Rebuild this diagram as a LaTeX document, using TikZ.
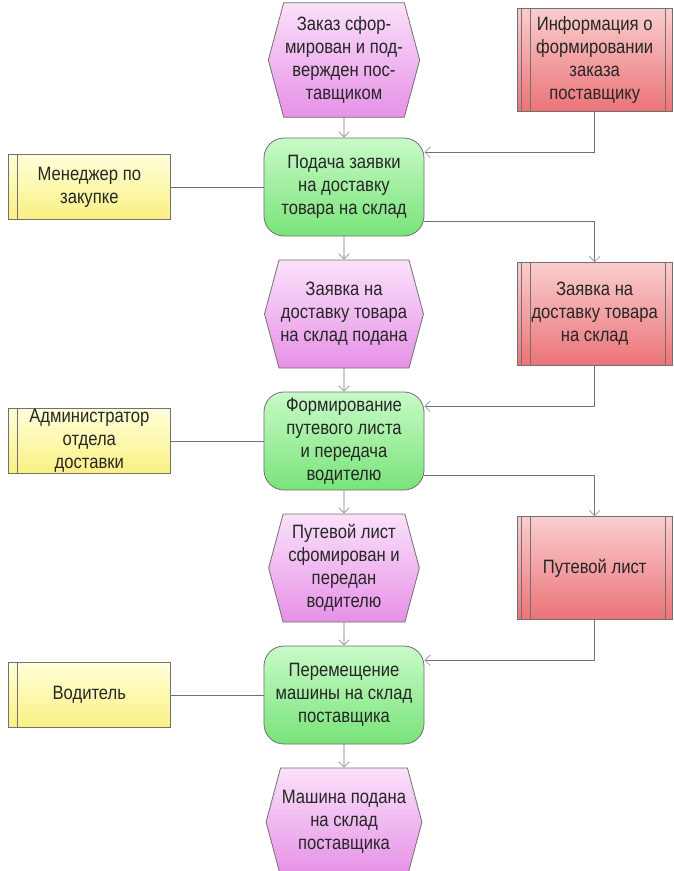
\documentclass[tikz,border=0pt]{standalone}
\usepackage{fontspec}
\setmainfont{Liberation Sans}[FakeStretch=0.86]
\usepackage{xcolor}
\usepackage{tikz}
\usetikzlibrary{shapes.symbols,arrows.meta}
\definecolor{evtop}{RGB}{250,225,250}
\definecolor{evbot}{RGB}{230,145,230}
\definecolor{fntop}{RGB}{200,250,200}
\definecolor{fnbot}{RGB}{120,228,120}
\definecolor{ortop}{RGB}{255,255,218}
\definecolor{orbot}{RGB}{250,240,130}
\definecolor{intop}{RGB}{250,205,205}
\definecolor{inbot}{RGB}{235,115,120}
\definecolor{edge}{RGB}{112,112,112}
\definecolor{tip}{RGB}{160,160,160}
\tikzset{
    base/.style = {draw=edge, line width=0.6pt, align=center, text=black!85, font=\fontsize{14.5}{17.2}\selectfont},
    event/.style = {base, signal, signal to=west and east, signal pointer angle=150, minimum width=113pt, minimum height=81pt, inner sep=1pt, top color=evtop, bottom color=evbot},
    function/.style = {base, rectangle, rounded corners=15pt, minimum width=120pt, minimum height=73.5pt, inner sep=1.5pt, top color=fntop, bottom color=fnbot},
    orgunit/.style = {base, rectangle, minimum width=121.5pt, minimum height=49pt, inner sep=1pt, top color=ortop, bottom color=orbot,
        path picture={\draw[edge, line width=0.6pt] ([xshift=6.75pt]path picture bounding box.north west) -- ([xshift=6.75pt]path picture bounding box.south west);}},
    info/.style = {base, rectangle, minimum width=116pt, minimum height=77pt, inner sep=1pt, top color=intop, bottom color=inbot,
        path picture={\draw[edge, line width=0.6pt] ([xshift=3pt]path picture bounding box.north west) -- ([xshift=3pt]path picture bounding box.south west)
            ([xshift=10pt]path picture bounding box.north west) -- ([xshift=10pt]path picture bounding box.south west)
            ([xshift=-5pt]path picture bounding box.north east) -- ([xshift=-5pt]path picture bounding box.south east);}},
    arrow/.style = {draw=edge, line width=0.6pt, -{Straight Barb[length=4pt, width=8pt, color=tip]}},
    link/.style = {draw=edge, line width=0.6pt}
}
\begin{document}
\begin{tikzpicture}[node distance=95.25pt]
\clip (-258pt,45pt) rectangle (247.5pt,-608.25pt);
\node (ev1) [event, minimum height=86pt] {Заказ сфор-\\мирован и под-\\вержден пос-\\тавщиком};
\node (fn1) [function, below of=ev1] {Подача заявки\\на доставку\\товара на склад};
\node (ev2) [event, below of=fn1] {Заявка на\\доставку товара\\на склад подана};
\node (fn2) [function, below of=ev2] {Формирование\\путевого листа\\и передача\\водителю};
\node (ev3) [event, below of=fn2] {Путевой лист\\сфомирован и\\передан\\водителю};
\node (fn3) [function, below of=ev3] {Перемещение\\машины на склад\\поставщика};
\node (ev4) [event, below of=fn3] {Машина подана\\на склад\\поставщика};

\node (info1) [info, node distance=188pt, right of=ev1] {Информация о\\формировании\\заказа\\поставщику};
\node (info2) [info, node distance=188pt, right of=ev2] {Заявка на\\доставку товара\\на склад};
\node (info3) [info, node distance=188pt, right of=ev3] {Путевой лист};

\node (manager) [orgunit, node distance=191pt, left of=fn1] {Менеджер по\\закупке};
\node (admin) [orgunit, node distance=191pt, left of=fn2] {Администратор\\отдела\\доставки};
\node (driver) [orgunit, node distance=191pt, left of=fn3] {Водитель};

\draw [arrow] (ev1) -- (fn1);
\draw [arrow] (fn1) -- (ev2);
\draw [arrow] (ev2) -- (fn2);
\draw [arrow] (fn2) -- (ev3);
\draw [arrow] (ev3) -- (fn3);
\draw [arrow] (fn3) -- (ev4);

\draw [arrow] (info1.south) |- ([yshift=26pt]fn1.east);
\draw [arrow] ([yshift=-26pt]fn1.east) -| (info2.north);
\draw [arrow] (info2.south) |- ([yshift=26pt]fn2.east);
\draw [arrow] ([yshift=-26pt]fn2.east) -| (info3.north);
\draw [arrow] (info3.south) |- ([yshift=26pt]fn3.east);

\draw [link] (manager) -- (fn1);
\draw [link] (admin) -- (fn2);
\draw [link] (driver) -- (fn3);
\end{tikzpicture}
\end{document}
